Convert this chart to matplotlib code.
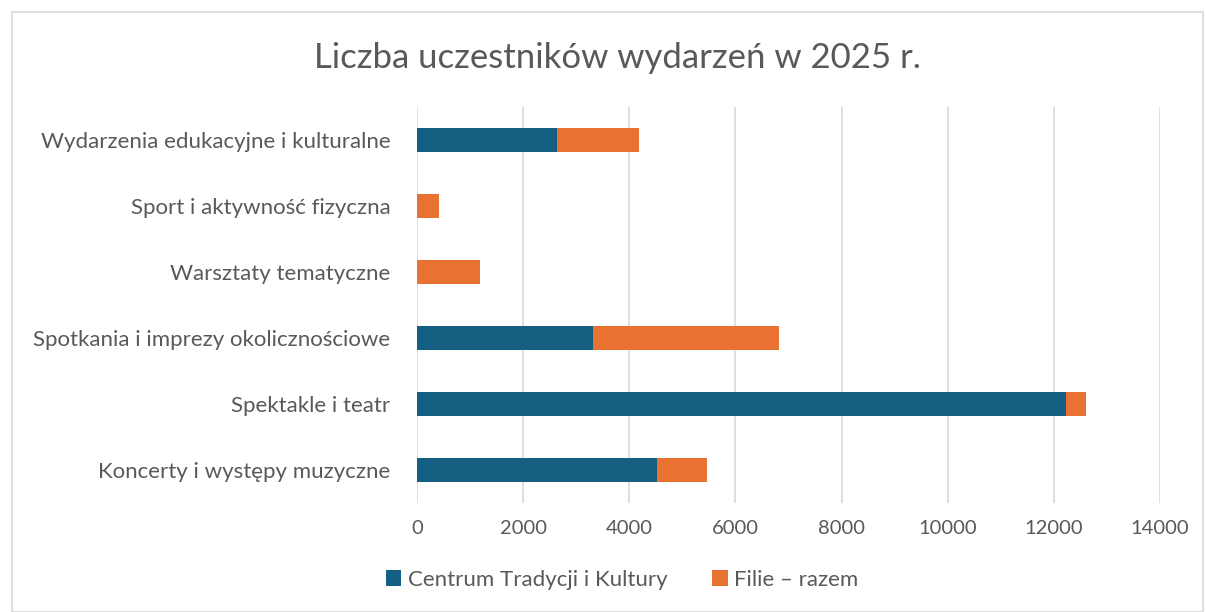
import matplotlib
matplotlib.use("Agg")
import matplotlib.pyplot as plt
from matplotlib.patches import Rectangle

categories = [
    "Koncerty i występy muzyczne",
    "Spektakle i teatr",
    "Spotkania i imprezy okolicznościowe",
    "Warsztaty tematyczne",
    "Sport i aktywność fizyczna",
    "Wydarzenia edukacyjne i kulturalne",
]
centrum = [4514, 12237, 3310, 0, 0, 2644]
filie = [946, 364, 3504, 1178, 414, 1537]
series_names = ["Centrum Tradycji i Kultury", "Filie – razem"]
xticks = [0, 2000, 4000, 6000, 8000, 10000, 12000, 14000]

BLUE = "#156082"
ORANGE = "#E97132"
TXT = "#595959"

plt.rcParams['font.family'] = ['Lato', 'DejaVu Sans']

fig = plt.figure(figsize=(12.06, 6.12), dpi=100)
fig.patches.append(Rectangle((12/1206, 0), 1 - 12/1206 - 3/1206, 1 - 12/612,
                             transform=fig.transFigure, fill=False,
                             edgecolor="#D9D9D9", linewidth=1.2))
ax = fig.add_axes([417/1206, 1 - 503/612, (1160 - 417)/1206, (503 - 107)/612])

y = list(range(len(categories)))
h = 0.37
ax.barh(y, centrum, height=h, color=BLUE, label=series_names[0], zorder=3)
ax.barh(y, filie, left=centrum, height=h, color=ORANGE, label=series_names[1], zorder=3)

ax.set_xlim(0, 14000)
ax.set_ylim(-0.5, len(categories) - 0.5)
ax.set_xticks(xticks)
ax.set_xticklabels([str(v) for v in xticks])
ax.set_yticks(y)
ax.set_yticklabels(categories, fontsize=16)
ax.grid(axis="x", color="#D9D9D9", linewidth=1.2, zorder=0)
for s in ax.spines.values():
    s.set_visible(False)
ax.tick_params(axis="both", length=0, colors=TXT)
ax.tick_params(axis="x", pad=12, labelsize=14.5)
ax.tick_params(axis="y", pad=19)

fig.text(0.512, 1 - 58/612, "Liczba uczestników wydarzeń w 2025 r.", ha="center", va="center",
         fontsize=25, color=TXT)

leg = fig.legend(loc="center", bbox_to_anchor=(0.516, 1 - 580/612), ncol=2, frameon=False,
                 fontsize=16, handlelength=0.7, handleheight=0.7, handletextpad=0.3,
                 columnspacing=2.0)
for t in leg.get_texts():
    t.set_color(TXT)

fig.savefig("out.png", dpi=100, facecolor="white")
